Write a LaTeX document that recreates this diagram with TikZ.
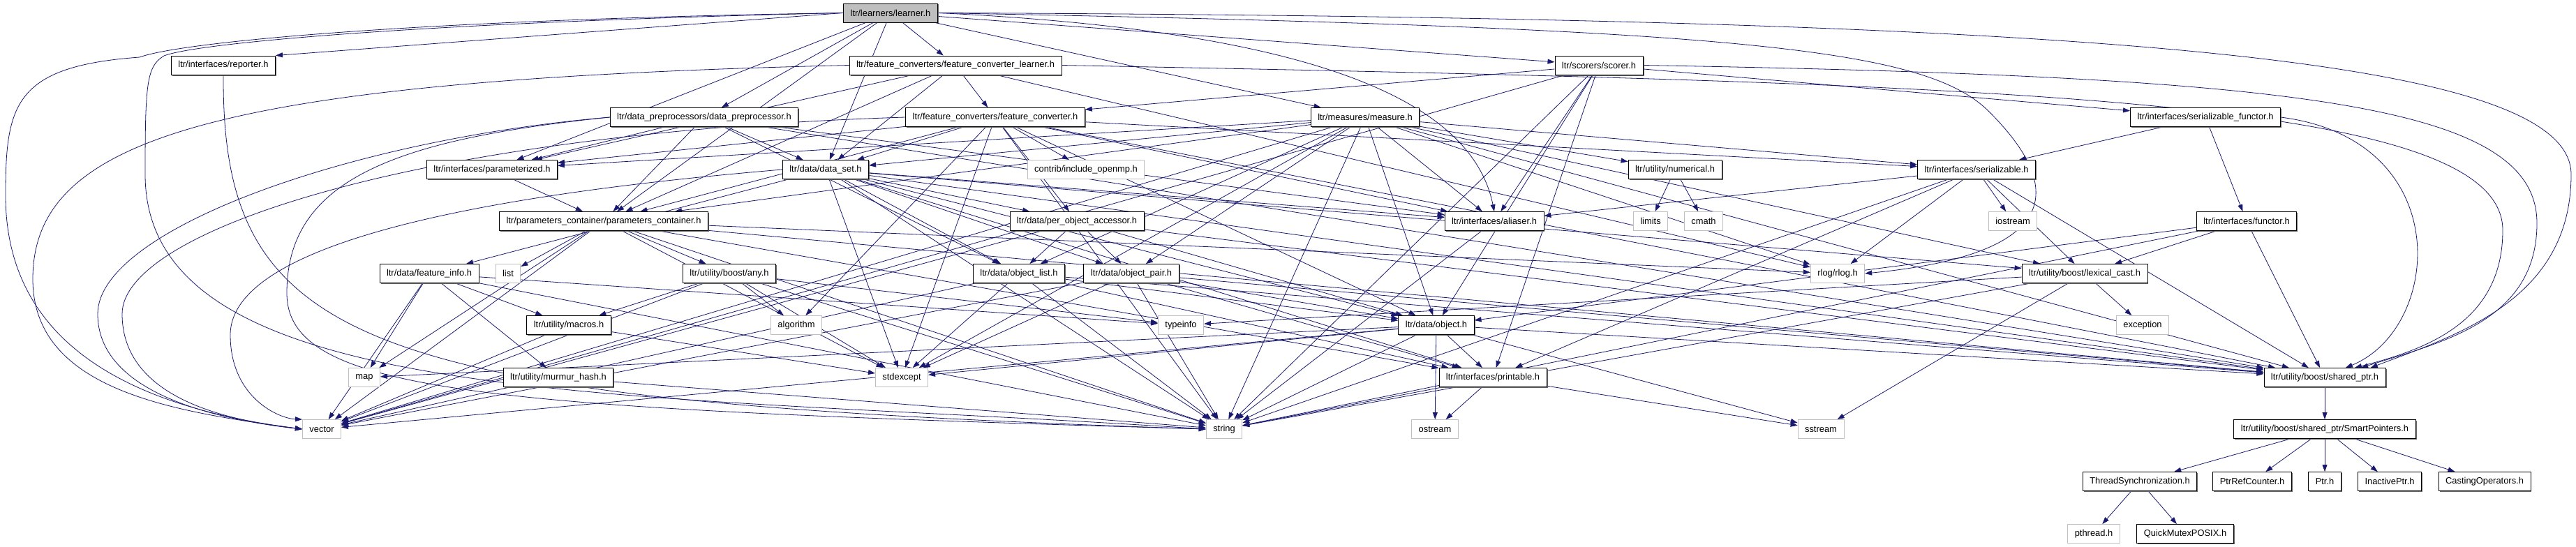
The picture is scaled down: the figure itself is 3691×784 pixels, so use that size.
\documentclass[tikz,border=0pt]{standalone}
\usepackage{fontspec}
\setmainfont{Liberation Sans}
\usetikzlibrary{arrows.meta, shadows, backgrounds}

\definecolor{edgeblue}{HTML}{191970}
\definecolor{extgray}{HTML}{BFBFBF}

\tikzset{
  hdr/.style={draw=black, fill=white, line width=0.9pt, inner xsep=10pt, inner ysep=0pt,
    minimum height=27pt, font=\fontsize{12.9}{14}\selectfont,
    general shadow={fill=black!60, shadow xshift=1.5pt, shadow yshift=-1.5pt}},
  ext/.style={draw=extgray, fill=white, line width=0.9pt, inner xsep=10pt, inner ysep=0pt,
    minimum height=27pt, font=\fontsize{12.9}{14}\selectfont},
  dep/.style={draw=edgeblue, line width=0.8pt, -{Triangle[length=10pt,width=7pt]}}
}

\begin{document}
\begin{tikzpicture}[x=1pt,y=-1pt]
\useasboundingbox (0,0) rectangle (3691,784);

% headers of the project
\node[hdr, fill=extgray] (learner) at (1276,18.5) {ltr/learners/learner.h};
\node[hdr] (reporter) at (320,93.5) {ltr/interfaces/reporter.h};
\node[hdr] (fcl) at (1369,93.5) {ltr/feature\_converters/feature\_converter\_learner.h};
\node[hdr] (scorer) at (2291,93.5) {ltr/scorers/scorer.h};
\node[hdr] (dpp) at (1009,168) {ltr/data\_preprocessors/data\_preprocessor.h};
\node[hdr] (fconv) at (1426,168) {ltr/feature\_converters/feature\_converter.h};
\node[hdr] (measure) at (1956,168) {ltr/measures/measure.h};
\node[hdr] (serfunc) at (3160,168) {ltr/interfaces/serializable\_functor.h};
\node[hdr] (paramd) at (705,243) {ltr/interfaces/parameterized.h};
\node[hdr] (dataset) at (1183,243) {ltr/data/data\_set.h};
\node[hdr] (numerical) at (2400,243) {ltr/utility/numerical.h};
\node[hdr] (serial) at (2832,243) {ltr/interfaces/serializable.h};
\node[hdr] (pcont) at (865,317) {ltr/parameters\_container/parameters\_container.h};
\node[hdr] (poa) at (1543,317) {ltr/data/per\_object\_accessor.h};
\node[hdr] (aliaser) at (2141,317) {ltr/interfaces/aliaser.h};
\node[hdr] (functor) at (3219,317) {ltr/interfaces/functor.h};
\node[hdr] (finfo) at (615,392) {ltr/data/feature\_info.h};
\node[hdr] (any) at (1045,392) {ltr/utility/boost/any.h};
\node[hdr] (objlist) at (1460,392) {ltr/data/object\_list.h};
\node[hdr] (objpair) at (1621,392) {ltr/data/object\_pair.h};
\node[hdr] (lexcast) at (2987,392) {ltr/utility/boost/lexical\_cast.h};
\node[hdr] (macros) at (815,466) {ltr/utility/macros.h};
\node[hdr] (object) at (2058,466) {ltr/data/object.h};
\node[hdr] (murmur) at (800,541) {ltr/utility/murmur\_hash.h};
\node[hdr] (printable) at (2139,541) {ltr/interfaces/printable.h};
\node[hdr] (sharedptr) at (3331,541) {ltr/utility/boost/shared\_ptr.h};
\node[hdr] (smartptr) at (3331,615) {ltr/utility/boost/shared\_ptr/SmartPointers.h};
\node[hdr] (threadsync) at (3066,690) {ThreadSynchronization.h};
\node[hdr] (refcounter) at (3227,690) {PtrRefCounter.h};
\node[hdr] (ptr) at (3331,690) {Ptr.h};
\node[hdr] (inactive) at (3424,690) {InactivePtr.h};
\node[hdr] (casting) at (3560,690) {CastingOperators.h};
\node[hdr] (quickmutex) at (3131,765) {QuickMutexPOSIX.h};

% system and third party headers
\node[ext] (openmp) at (1556,243) {contrib/include\_openmp.h};
\node[ext] (limits) at (2365,317) {limits};
\node[ext] (cmath) at (2441,317) {cmath};
\node[ext] (iostream) at (2884,317) {iostream};
\node[ext] (list) at (728,392) {list};
\node[ext] (rlog) at (2633,392) {rlog/rlog.h};
\node[ext] (algorithm) at (1141,466) {algorithm};
\node[ext] (typeinfo) at (1692,466) {typeinfo};
\node[ext] (exception) at (3070,466) {exception};
\node[ext] (map) at (522,541) {map};
\node[ext] (stdexcept) at (1292,541) {stdexcept};
\node[ext] (vector) at (461,615) {vector};
\node[ext] (string) at (1754,615) {string};
\node[ext] (ostream) at (2056,615) {ostream};
\node[ext] (sstream) at (2609,615) {sstream};
\node[ext] (pthread) at (3000,765) {pthread.h};

\begin{scope}[on background layer]
% learner.h
\foreach \dst in {fcl,dpp,paramd,pcont,dataset,measure,scorer}
  \draw[dep] (learner) -- (\dst);
\draw[dep] (learner.west) -- (reporter.north east);
\draw[dep] (learner.east) .. controls (1900,45) and (2110,150) .. (aliaser.north);
\draw[dep] (learner.east) .. controls (2500,40) and (2760,70) .. (2850,160)
  .. controls (2990,300) and (2900,370) .. (rlog.east);
\draw[dep] (learner.west) .. controls (600,28) and (260,60) .. (200,82)
  .. controls (20,95) and (8,150) .. (8,280)
  .. controls (8,500) and (200,585) .. (vector.west);
\draw[dep] (learner.west) .. controls (600,32) and (280,62) .. (235,80)
  .. controls (210,95) and (208,120) .. (208,250)
  .. controls (208,590) and (900,560) .. (string.west);
\draw[dep] (learner.east) .. controls (3000,25) and (3684,80) .. (3684,250)
  .. controls (3684,430) and (3520,480) .. (sharedptr.12);

\draw[dep] (reporter.south) .. controls (318,500) and (520,575) .. (string.west);

% converters, scorers, measures
\foreach \dst in {fconv,dataset,paramd,pcont,rlog}
  \draw[dep] (fcl) -- (\dst);
\draw[dep] (fcl.west) .. controls (300,115) and (47,200) .. (47,400)
  .. controls (47,560) and (250,590) .. (vector.west);
\draw[dep] (fcl.east) .. controls (2900,120) and (3586,140) .. (3586,330)
  .. controls (3586,460) and (3480,500) .. (sharedptr.18);
\foreach \dst in {fconv,serfunc,aliaser,object,string,vector,printable}
  \draw[dep] (scorer) -- (\dst);
\draw[dep] (scorer.east) .. controls (3300,110) and (3635,150) .. (3635,320)
  .. controls (3635,460) and (3500,490) .. (sharedptr.15);
\foreach \dst in {dataset,paramd,pcont,aliaser,sharedptr,objlist}
  \draw[dep] (dpp) -- (\dst);
\draw[dep] (dpp.west) .. controls (500,200) and (140,330) .. (140,450)
  .. controls (140,560) and (300,600) .. (vector.west);
\draw[dep] (dpp.west) .. controls (560,200) and (411,260) .. (411,420)
  .. controls (411,565) and (700,585) .. (string.west);
\foreach \dst in {dataset,openmp,paramd,pcont,poa,object,aliaser,serial,sharedptr,string,stdexcept,algorithm}
  \draw[dep] (fconv) -- (\dst);
\draw[dep] (fconv.west) .. controls (600,190) and (175,330) .. (175,450)
  .. controls (175,560) and (300,600) .. (vector.west);
\foreach \dst in {dataset,objlist,objpair,object,aliaser,paramd,pcont,serial,numerical,rlog,sharedptr,string,vector,stdexcept,lexcast}
  \draw[dep] (measure) -- (\dst);

% interfaces
\foreach \dst in {serial,functor}
  \draw[dep] (serfunc) -- (\dst);
\draw[dep] (serfunc.east) .. controls (3520,200) and (3500,470) .. (sharedptr.25);
\draw[dep] (paramd) -- (pcont);
\foreach \dst in {aliaser,rlog,iostream,lexcast,string,sharedptr,printable}
  \draw[dep] (serial) -- (\dst);
\draw[dep] (aliaser) -- (string);
\foreach \dst in {lexcast,object,string,sharedptr}
  \draw[dep] (functor) -- (\dst);
\foreach \dst in {string,ostream,sstream}
  \draw[dep] (printable) -- (\dst);

% data
\foreach \dst in {finfo,objlist,objpair,poa,object,aliaser,printable,sharedptr,string,stdexcept,lexcast}
  \draw[dep] (dataset) -- (\dst);
\draw[dep] (dataset.west) .. controls (800,270) and (330,330) .. (330,480)
  .. controls (330,570) and (400,600) .. (vector.north west);
\foreach \dst in {map,list,any,string,stdexcept,printable,rlog,sharedptr,vector}
  \draw[dep] (pcont) -- (\dst);
\foreach \dst in {objlist,objpair,object,sharedptr,vector}
  \draw[dep] (poa) -- (\dst);
\foreach \dst in {macros,murmur,map,vector,string,typeinfo}
  \draw[dep] (finfo) -- (\dst);
\foreach \dst in {object,stdexcept,string,vector,printable,sharedptr}
  \draw[dep] (objlist) -- (\dst);
\foreach \dst in {object,stdexcept,string,vector,printable,sharedptr}
  \draw[dep] (objpair) -- (\dst);
\foreach \dst in {printable,sharedptr,string,ostream,vector,stdexcept,map,sstream}
  \draw[dep] (object) -- (\dst);

% utility
\foreach \dst in {limits,cmath}
  \draw[dep] (numerical) -- (\dst);
\foreach \dst in {macros,algorithm,typeinfo,stdexcept,vector,string}
  \draw[dep] (any) -- (\dst);
\foreach \dst in {typeinfo,sstream,exception,string}
  \draw[dep] (lexcast) -- (\dst);
\foreach \dst in {vector,stdexcept}
  \draw[dep] (macros) -- (\dst);
\draw[dep] (murmur) -- (string);
\draw[dep] (sharedptr) -- (smartptr);
\foreach \dst in {threadsync,refcounter,ptr,inactive,casting}
  \draw[dep] (smartptr) -- (\dst);
\foreach \dst in {pthread,quickmutex}
  \draw[dep] (threadsync) -- (\dst);
\end{scope}
\end{tikzpicture}
\end{document}
